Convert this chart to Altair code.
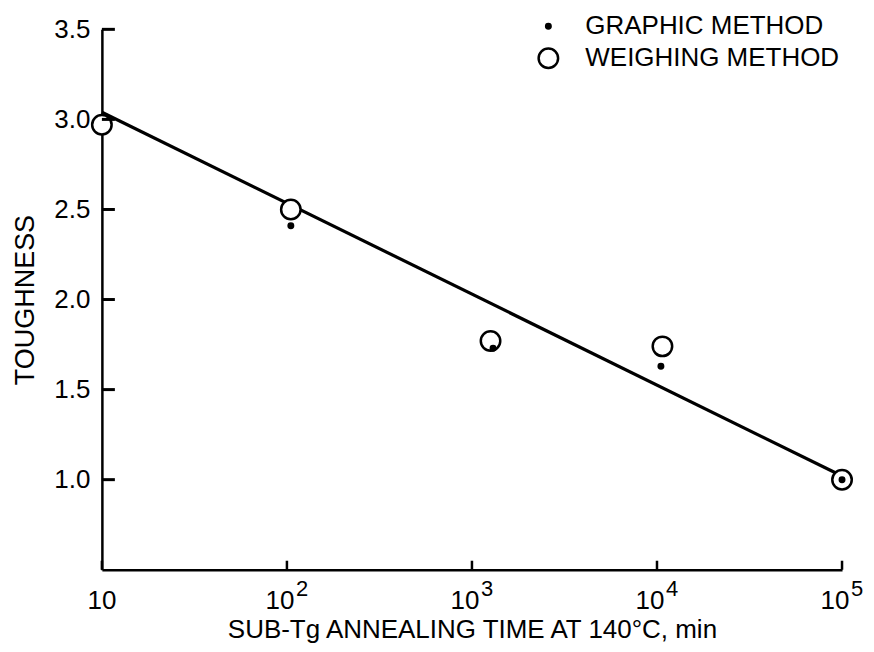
import altair as alt
import pandas as pd

# ---- data ----
weigh_time = [10, 105, 1260, 10700, 100000]
weigh_tough = [2.97, 2.50, 1.77, 1.74, 1.00]
graph_time = [105, 1300, 10500, 100000]
graph_tough = [2.41, 1.73, 1.63, 1.00]
fit_time = [10, 100000]
fit_tough = [3.04, 1.02]
y_ticks = [1.0, 1.5, 2.0, 2.5, 3.0, 3.5]
x_ticks = [10, 100, 1000, 10000, 100000]
x_base = ["10", "10", "10", "10", "10"]
x_exp = ["", "2", "3", "4", "5"]
methods = ["GRAPHIC METHOD", "WEIGHING METHOD"]

W, H = 741, 541
FONT = "Liberation Sans"
FS = 26

pts = pd.DataFrame({
    "time": weigh_time + graph_time,
    "tough": weigh_tough + graph_tough,
    "method": [methods[1]] * len(weigh_time) + [methods[0]] * len(graph_time),
})
pts["order"] = range(len(pts))
fit = pd.DataFrame({"time": fit_time, "tough": fit_tough})
ytk = pd.DataFrame({"tough": y_ticks})
xtk = pd.DataFrame({"time": x_ticks, "base": x_base, "exp": x_exp})

xscale = alt.Scale(type="log", domain=[10, 100000], nice=False)
yscale = alt.Scale(domain=[0.5, 3.5], nice=False, zero=False)
xaxis = alt.Axis(values=x_ticks, labels=False, ticks=False,
                 title="SUB-Tg ANNEALING TIME AT 140°C, min", titlePadding=47,
                 grid=False, domainWidth=2.5, domainColor="black",
                 titleFont=FONT, titleFontSize=26, titleColor="black",
                 titleFontWeight="normal")
yaxis = alt.Axis(values=y_ticks, format=".1f", title="TOUGHNESS", tickSize=0,
                 labelPadding=12, titlePadding=14, grid=False, domainWidth=2.5,
                 domainColor="black", labelOverlap=False,
                 labelFont=FONT, titleFont=FONT, labelFontSize=FS, titleFontSize=27,
                 labelColor="black", titleColor="black", titleFontWeight="normal")

X = alt.X("time:Q", scale=xscale, axis=xaxis)
Y = alt.Y("tough:Q", scale=yscale, axis=yaxis)

line = alt.Chart(fit).mark_line(color="black", strokeWidth=3.2).encode(x=X, y=Y)

leg = alt.Legend(title=None, orient="none", legendX=434, legendY=-16,
                 labelFontSize=FS, labelFont=FONT, labelColor="black", labelLimit=500,
                 labelOffset=24, rowPadding=4, symbolStrokeWidth=2.5,
                 symbolStrokeColor="black")

points = alt.Chart(pts).mark_point(strokeWidth=2.5, opacity=1, fillOpacity=1).encode(
    x=X, y=Y,
    fill=alt.Fill("method:N", scale=alt.Scale(domain=methods, range=["black", "white"]), legend=leg),
    stroke=alt.Stroke("method:N", scale=alt.Scale(domain=methods, range=["black", "black"]), legend=leg),
    size=alt.Size("method:N", scale=alt.Scale(domain=methods, range=[20, 380]), legend=leg),
    order=alt.Order("order:Q"),
)

# inward-pointing tick marks
yticks = alt.Chart(ytk).mark_rule(color="black", strokeWidth=3).encode(
    y=Y, x=alt.value(0), x2=alt.value(13))
xticks = alt.Chart(xtk).mark_rule(color="black", strokeWidth=2.5).encode(
    x=X, y=alt.value(H), y2=alt.value(H - 9))

first_lab = alt.Chart(xtk).transform_filter("datum.exp == ''").mark_text(
    font=FONT, fontSize=FS, color="black", baseline="middle", align="center").encode(
    x=X, y=alt.value(H + 31), text="base:N")
base_lab = alt.Chart(xtk).transform_filter("datum.exp != ''").mark_text(
    font=FONT, fontSize=FS, color="black", baseline="middle", align="center", dx=-7).encode(
    x=X, y=alt.value(H + 31), text="base:N")
exp_lab = alt.Chart(xtk).transform_filter("datum.exp != ''").mark_text(
    font=FONT, fontSize=22, color="black", baseline="middle", align="left", dx=9).encode(
    x=X, y=alt.value(H + 19), text="exp:N")

chart = alt.layer(line, first_lab, base_lab, exp_lab, points, yticks, xticks).properties(
    width=W, height=H,
    background="white",
    autosize=alt.AutoSizeParams(type="none"),
    padding={"left": 94, "top": 21, "right": 24, "bottom": 74},
).configure_view(stroke=None)

chart.save("out.html", embed_options={"renderer": "svg", "actions": False})
